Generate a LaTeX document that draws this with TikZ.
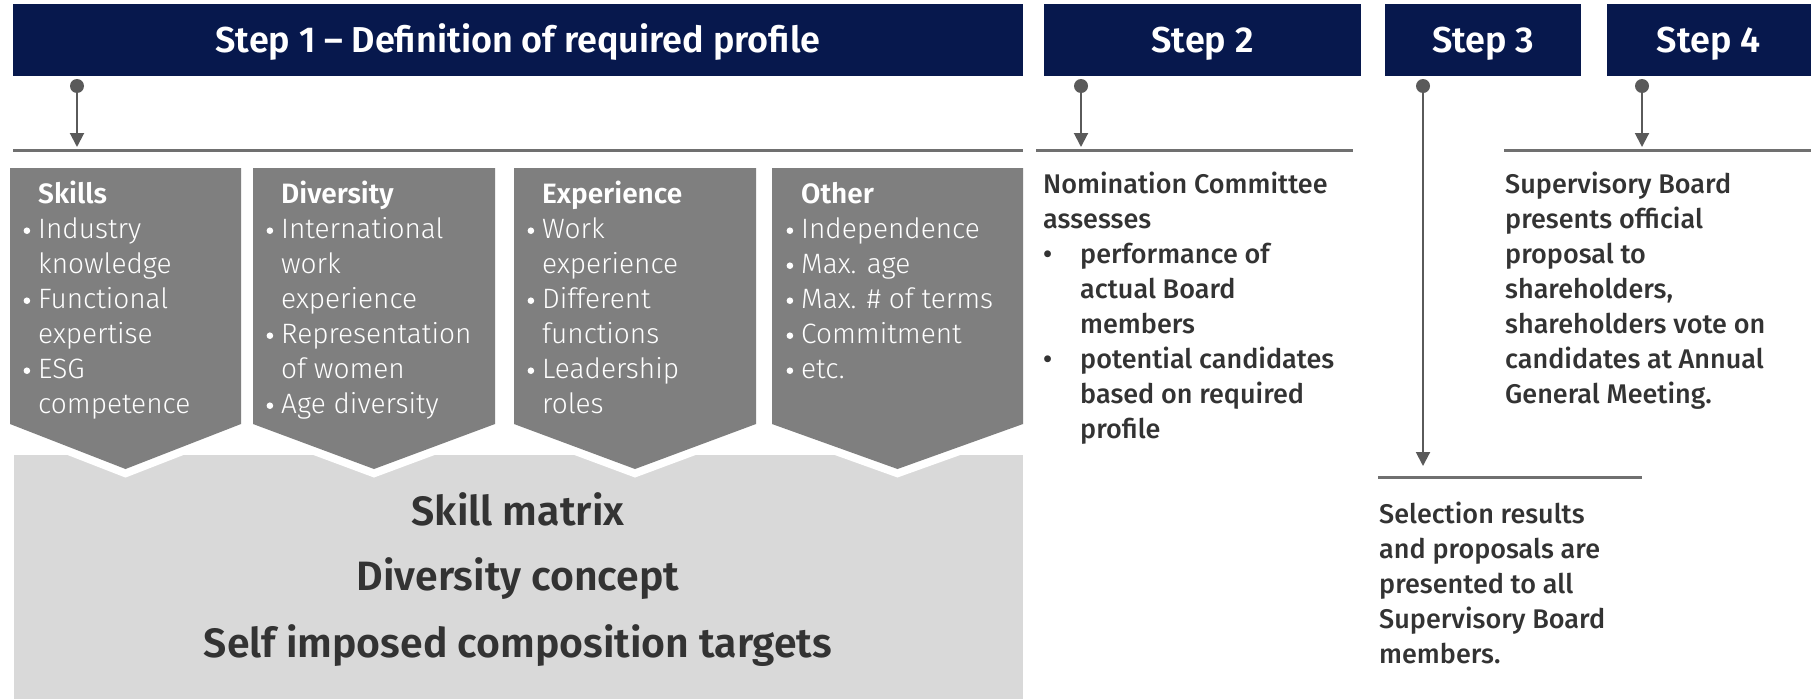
\documentclass[tikz,border=0pt]{standalone}
\usepackage{fontspec}
\setmainfont{Fira Sans}
\newfontfamily\lightfont{Fira Sans Light}
\newfontfamily\medfont{Fira Sans Medium}
\newfontfamily\semifont{Fira Sans SemiBold}
\usetikzlibrary{arrows.meta}

\definecolor{navy}{RGB}{7,24,77}
\definecolor{chevgray}{RGB}{127,127,127}
\definecolor{bggray}{RGB}{217,217,217}
\definecolor{linegray}{RGB}{112,112,112}
\definecolor{arrowgray}{RGB}{90,90,90}
\definecolor{textdark}{RGB}{51,51,51}

\newcommand{\bul}{\llap{\raisebox{4pt}{\tikz\fill[white] (0,0) circle (3.3pt);}\hspace{8pt}}}
\newcommand{\bulr}{\makebox[37pt][l]{\textbullet}}
\newcommand{\ind}{\hspace*{37pt}}

\tikzset{
  stephead/.style={fill=navy, text=white, minimum height=72pt, inner sep=0pt,
    text height=26pt, text depth=2pt, font=\semifont\fontsize{36}{43}\selectfont},
  dot/.style={circle, fill=arrowgray, minimum size=14pt, inner sep=0pt},
  link/.style={arrowgray, line width=2pt, -{Triangle[width=14pt,length=14pt]}},
  rule/.style={linegray, line width=3pt},
  % multi-line nodes sit on the baseline of their last line
  chevtext/.style={anchor=base west, text=white, align=left, inner sep=0pt,
    font=\lightfont\fontsize{28}{35}\selectfont},
  desc/.style={anchor=base west, text=textdark, align=left, inner sep=0pt,
    font=\medfont\fontsize{27}{35}\selectfont},
  bigtext/.style={anchor=base, text=textdark, inner sep=0pt,
    font=\semifont\fontsize{41}{48}\selectfont},
}

\begin{document}
\begin{tikzpicture}[x=1pt, y=-1pt]
% Frame of the picture
\useasboundingbox (0,0) rectangle (1815,699);

% Step headers
\node[stephead, minimum width=1010pt] (head1) at (518,40) {Step 1 – Definition of required profile};
\node[stephead, minimum width=317pt] (head2) at (1202.5,40) {Step 2};
\node[stephead, minimum width=196pt] (head3) at (1483,40) {Step 3};
\node[stephead, minimum width=204pt] (head4) at (1708.5,40) {Step 4};

% Dots and arrows
\foreach \n/\x in {1/77, 2/1081, 4/1642}{
  \node[dot] (dot\n) at (\x,86) {};
  \coordinate (tip\n) at (\x,147);
  \draw[link] (dot\n) -- (tip\n);
}
\node[dot] (dot3) at (1423,86) {};
\coordinate (tip3) at (1423,466);
\draw[link] (dot3) -- (tip3);

% Rules below the arrows
\coordinate (r1a) at (13,150);   \coordinate (r1b) at (1023,150);
\coordinate (r2a) at (1036,150); \coordinate (r2b) at (1353,150);
\coordinate (r4a) at (1504,150); \coordinate (r4b) at (1811,150);
\coordinate (r3a) at (1378,477); \coordinate (r3b) at (1642,477);
\draw[rule] (r1a) -- (r1b);
\draw[rule] (r2a) -- (r2b);
\draw[rule] (r4a) -- (r4b);
\draw[rule] (r3a) -- (r3b);

% Light panel
\fill[bggray] (14,455) rectangle (1023,699);

% Chevrons
\foreach \L/\R in {10/241, 253/495, 514/756, 772/1023}{
  \pgfmathsetmacro{\M}{(\L+\R)/2}
  \path[draw=white, line width=16pt] (\L,168) -- (\R,168) -- (\R,424) -- (\M,469) -- (\L,424) -- cycle;
  \fill[chevgray] (\L,168) -- (\R,168) -- (\R,424) -- (\M,469) -- (\L,424) -- cycle;
}

% Chevron texts (first line at y=203)
\node[chevtext] (skills) at (38,413) {{\semifont Skills}\\\bul Industry\\knowledge\\\bul Functional\\expertise\\\bul ESG\\competence};
\node[chevtext] (diversity) at (281,413) {{\semifont Diversity}\\\bul International\\work\\experience\\\bul Representation\\of women\\\bul Age diversity};
\node[chevtext] (experience) at (542,413) {{\semifont Experience}\\\bul Work\\experience\\\bul Different\\functions\\\bul Leadership\\roles};
\node[chevtext] (other) at (801,378) {{\semifont Other}\\\bul Independence\\\bul Max. age\\\bul Max. \# of terms\\\bul Commitment\\\bul etc.};

% Panel texts
\node[bigtext] (matrix) at (518,525) {Skill matrix};
\node[bigtext] (concept) at (518,590) {Diversity concept};
\node[bigtext] (targets) at (518,657) {Self imposed composition targets};

% Step descriptions
\node[desc] (assess) at (1043,438) {Nomination Committee\\assesses\\\bulr performance of\\\ind actual Board\\\ind members\\\bulr potential candidates\\\ind based on required\\\ind profile};
\node[desc] (select) at (1379,663) {Selection results\\and proposals are\\presented to all\\Supervisory Board\\members.};
\node[desc] (propose) at (1505,403) {Supervisory Board\\presents official\\proposal to\\shareholders,\\shareholders vote on\\candidates at Annual\\General Meeting.};
\end{tikzpicture}
\end{document}
